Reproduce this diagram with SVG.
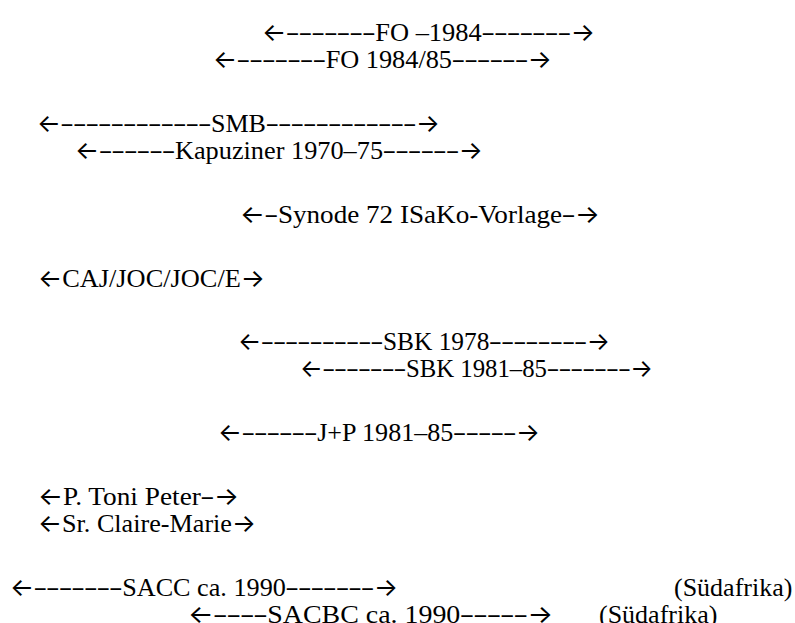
<svg xmlns="http://www.w3.org/2000/svg" width="795" height="623" viewBox="0 0 795 623">
<style>
text{font-family:"Liberation Serif","Times New Roman",serif;font-size:26px;fill:#000}
.a{font-family:Inter,"Noto Sans CJK SC","DejaVu Sans",sans-serif;font-size:25px}
.d{font-family:"Open Sans","Noto Sans",sans-serif;font-size:25px}
</style>
<rect width="795" height="623" fill="#fff"/>
<g id="fo1984"><text x="262" y="41" textLength="333" lengthAdjust="spacingAndGlyphs"><tspan class="a">←</tspan><tspan class="d">–––––––</tspan>FO –1984<tspan class="d">–––––––</tspan><tspan class="a">→</tspan></text></g>
<g id="fo198485"><text x="213" y="68" textLength="339" lengthAdjust="spacingAndGlyphs"><tspan class="a">←</tspan><tspan class="d">–––––––</tspan>FO 1984/85<tspan class="d">––––––</tspan><tspan class="a">→</tspan></text></g>
<g id="smb"><text x="37" y="132" textLength="403" lengthAdjust="spacingAndGlyphs"><tspan class="a">←</tspan><tspan class="d">––––––––––––</tspan>SMB<tspan class="d">––––––––––––</tspan><tspan class="a">→</tspan></text></g>
<g id="kapuziner"><text x="75" y="159" textLength="408" lengthAdjust="spacingAndGlyphs"><tspan class="a">←</tspan><tspan class="d">––––––</tspan>Kapuziner 1970–75<tspan class="d">––––––</tspan><tspan class="a">→</tspan></text></g>
<g id="synode"><text x="240" y="223" textLength="360" lengthAdjust="spacingAndGlyphs"><tspan class="a">←</tspan><tspan class="d">–</tspan>Synode 72 ISaKo-Vorlage<tspan class="d">–</tspan><tspan class="a">→</tspan></text></g>
<g id="caj"><text x="38" y="286.6" textLength="227" lengthAdjust="spacingAndGlyphs"><tspan class="a">←</tspan>CAJ/JOC/JOC/E<tspan class="a">→</tspan></text></g>
<g id="sbk1978"><text x="238" y="350.4" textLength="372" lengthAdjust="spacingAndGlyphs"><tspan class="a">←</tspan><tspan class="d">––––––––––</tspan>SBK 1978<tspan class="d">––––––––</tspan><tspan class="a">→</tspan></text></g>
<g id="sbk198185"><text x="300" y="377.4" textLength="353" lengthAdjust="spacingAndGlyphs"><tspan class="a">←</tspan><tspan class="d">–––––––</tspan>SBK 1981–85<tspan class="d">–––––––</tspan><tspan class="a">→</tspan></text></g>
<g id="jp"><text x="218" y="441.3" textLength="322" lengthAdjust="spacingAndGlyphs"><tspan class="a">←</tspan><tspan class="d">––––––</tspan>J+P 1981–85<tspan class="d">–––––</tspan><tspan class="a">→</tspan></text></g>
<g id="toni"><text x="38" y="505.1" textLength="201" lengthAdjust="spacingAndGlyphs"><tspan class="a">←</tspan>P. Toni Peter<tspan class="d">–</tspan><tspan class="a">→</tspan></text></g>
<g id="claire"><text x="38" y="532.1" textLength="218" lengthAdjust="spacingAndGlyphs"><tspan class="a">←</tspan>Sr. Claire-Marie<tspan class="a">→</tspan></text></g>
<g id="sacc"><text x="10" y="596" textLength="388" lengthAdjust="spacingAndGlyphs"><tspan class="a">←</tspan><tspan class="d">–––––––</tspan>SACC ca. 1990<tspan class="d">–––––––</tspan><tspan class="a">→</tspan></text><text x="674" y="596">(Südafrika)</text></g>
<g id="sacbc"><text x="188" y="622.5" textLength="365" lengthAdjust="spacingAndGlyphs"><tspan class="a">←</tspan><tspan class="d">––––</tspan>SACBC ca. 1990<tspan class="d">–––––</tspan><tspan class="a">→</tspan></text><text x="599" y="622.5">(Südafrika)</text></g>
<g id="connectors"></g>
</svg>
